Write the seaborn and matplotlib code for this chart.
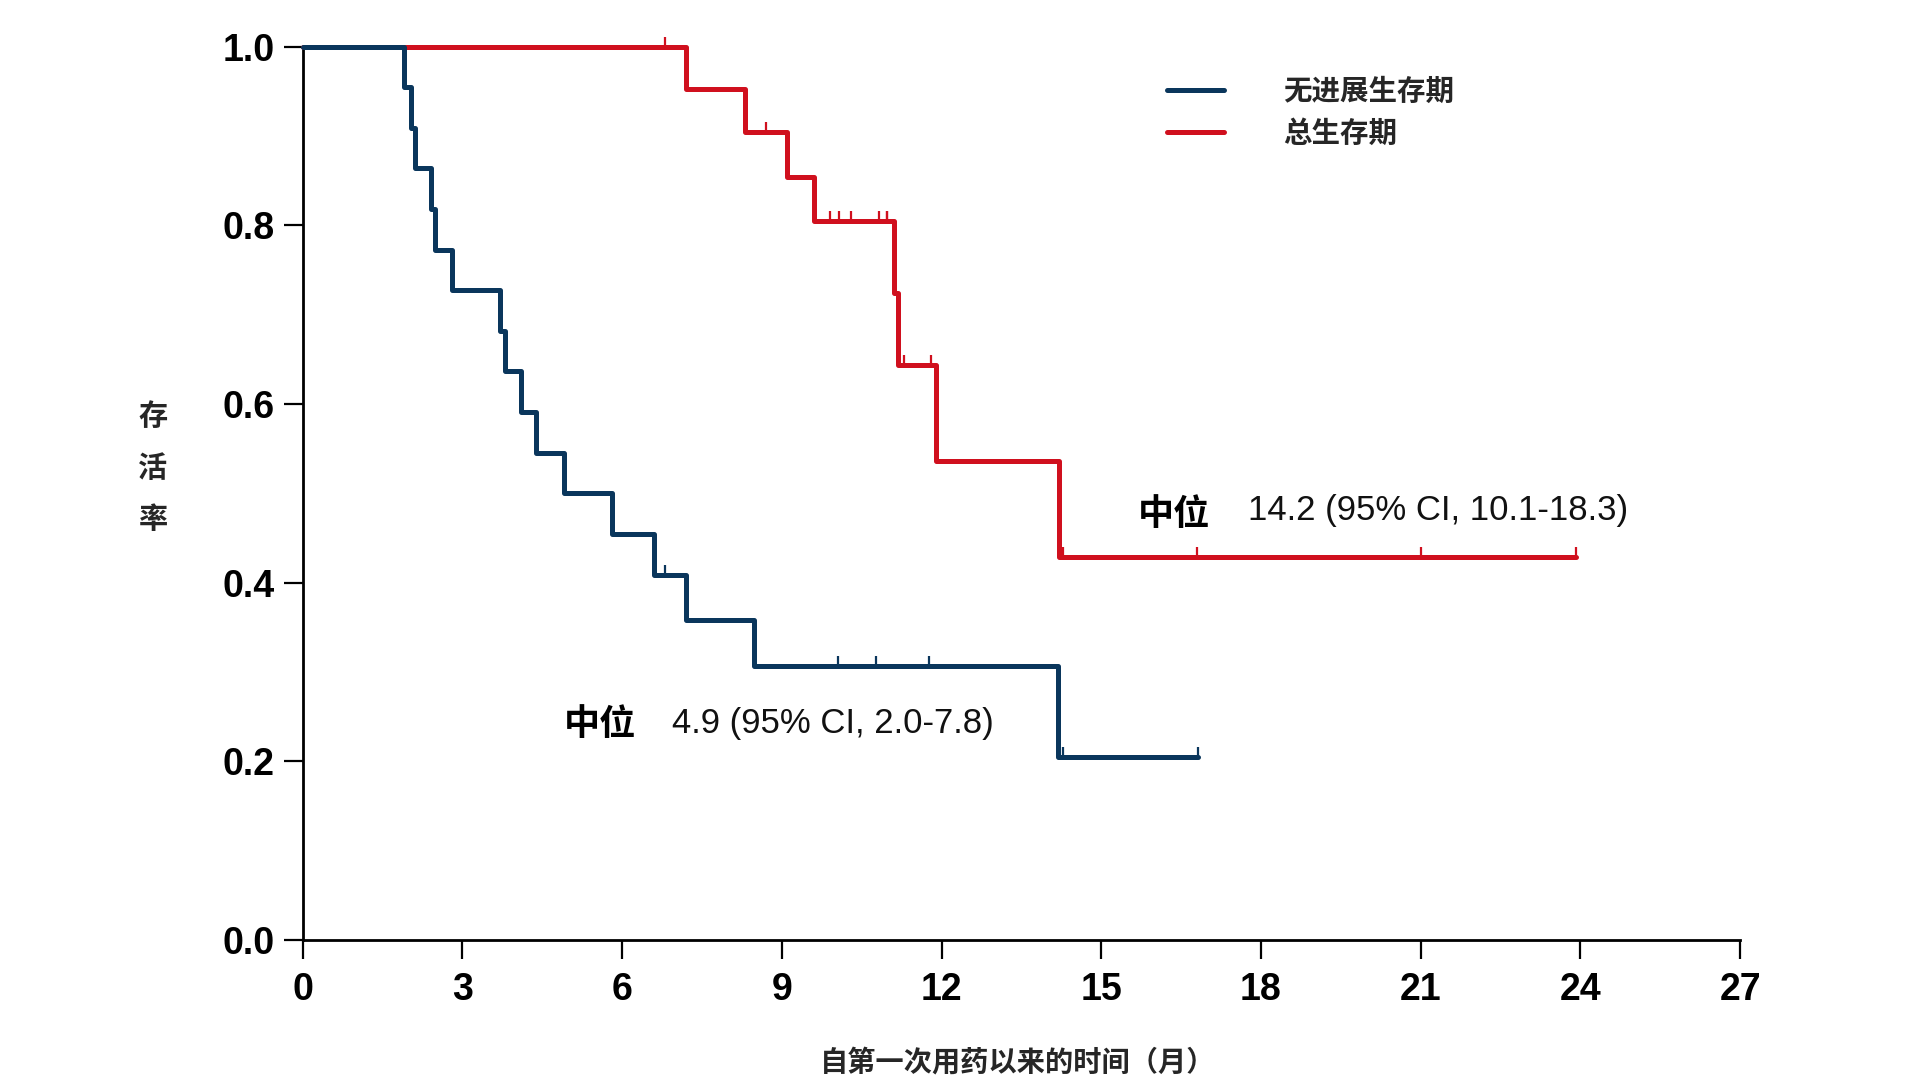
import numpy as np
import pandas as pd
import matplotlib
matplotlib.use("Agg")
import matplotlib.pyplot as plt
import seaborn as sns

# times in months (22 patients per curve)
pfs_events = [1.90, 2.03, 2.10, 2.40, 2.49, 2.81, 3.71, 3.80, 4.10, 4.39,
              4.91, 5.80, 6.60, 7.20, 8.48, 14.19]
pfs_censored = [6.81, 10.05, 10.76, 11.77, 14.28, 16.81]

os_events = [7.19, 8.30, 9.10, 9.60, 11.10, 11.19, 11.90, 14.20]
os_censored = [6.81, 8.71, 9.90, 10.08, 10.29, 10.82, 10.98, 10.98, 11.29,
               11.81, 14.28, 16.80, 21.00, 23.92]

series_names = ["无进展生存期", "总生存期"]
x_ticks = [0, 3, 6, 9, 12, 15, 18, 21, 24, 27]
y_ticks = [0.0, 0.2, 0.4, 0.6, 0.8, 1.0]
pfs_note = "4.9 (95% CI, 2.0-7.8)"
os_note = "14.2 (95% CI, 10.1-18.3)"

BLUE = "#0a365c"
RED = "#d0101e"


def km_steps(events, censored):
    """Kaplan-Meier estimate as step points plus the survival at each censor time."""
    ev = np.array(events)
    ce = np.array(censored)
    s = 1.0
    xs, ys = [0.0], [1.0]
    for t in np.unique(ev):
        at_risk = (ev >= t).sum() + (ce >= t).sum()
        d = (ev == t).sum()
        s *= 1 - d / at_risk
        xs.append(t)
        ys.append(s)
    end = max(ev.max(), ce.max())
    xs.append(end)
    ys.append(s)
    steps = pd.DataFrame({"time": xs, "surv": ys})
    cens_y = [steps.loc[steps["time"] <= c, "surv"].iloc[-1] for c in ce]
    return steps, pd.DataFrame({"time": ce, "surv": cens_y})


sns.set_theme(style="white")
plt.rcParams["font.family"] = ["Liberation Sans", "Noto Sans CJK SC", "DejaVu Sans"]
cjk = ["Noto Sans CJK SC", "DejaVu Sans"]

fig = plt.figure(figsize=(19.2, 10.8), dpi=100)
ax = fig.add_axes([0.1577, 0.1296, 0.7486, 0.8273])

os_steps, os_cens = km_steps(os_events, os_censored)
pfs_steps, pfs_cens = km_steps(pfs_events, pfs_censored)

for steps, cens, color, name, z in [(os_steps, os_cens, RED, series_names[1], 3),
                                    (pfs_steps, pfs_cens, BLUE, series_names[0], 4)]:
    sns.lineplot(data=steps, x="time", y="surv", ax=ax, color=color, lw=3.6,
                 drawstyle="steps-post", estimator=None, sort=False,
                 clip_on=False, zorder=z, label=name)
    ax.plot(cens["time"], cens["surv"], ls="none", marker=2, ms=7.5, mew=1.6,
            color=color, clip_on=False, zorder=z)

ax.set_xlim(0, 27)
ax.set_ylim(0, 1.0)
ax.set_xticks(x_ticks)
ax.set_yticks(y_ticks)
ax.set_yticklabels([f"{v:.1f}" for v in y_ticks])
ax.tick_params(axis="both", which="major", direction="out", length=14, width=1.6,
               color="black", labelsize=27, labelcolor="black",
               bottom=True, left=True)
ax.tick_params(axis="x", pad=9)
ax.tick_params(axis="y", pad=6.5)
for lab in ax.get_xticklabels() + ax.get_yticklabels():
    lab.set_fontweight("bold")
sns.despine(ax=ax)
for side in ["left", "bottom"]:
    ax.spines[side].set_color("black")
    ax.spines[side].set_linewidth(2.0)
ax.set_xlabel("")
ax.set_ylabel("")

# legend, progression-free survival listed first
handles, labels = ax.get_legend_handles_labels()
order = [labels.index(n) for n in series_names]
leg = ax.legend([handles[i] for i in order], [labels[i] for i in order],
                loc="upper left", bbox_to_anchor=(0.601, 0.965), frameon=False,
                borderpad=0, borderaxespad=0, handlelength=2.0, handletextpad=2.1,
                labelspacing=0.5, prop={"family": cjk, "weight": "bold", "size": 20.5})
for h in leg.get_lines():
    h.set_linewidth(3.6)
    h.set_solid_capstyle("round")

# median annotations
ax.text(4.90, 0.241, "中位", family=cjk, fontweight="bold", fontsize=26,
        va="center", ha="left", color="black")
ax.text(6.93, 0.242, pfs_note, fontsize=25, va="center", ha="left", color="#111111")
ax.text(15.68, 0.476, "中位", family=cjk, fontweight="bold", fontsize=26,
        va="center", ha="left", color="black")
ax.text(17.75, 0.481, os_note, fontsize=25, va="center", ha="left", color="#111111")

# axis titles
fig.text(0.0797, 0.567, "存\n活\n率", family=cjk, fontweight="bold", fontsize=21,
         ha="center", va="center", linespacing=1.9)
fig.text(0.530, 0.016, "自第一次用药以来的时间（月）", family=cjk, fontweight="bold",
         fontsize=20.3, ha="center", va="center")

fig.savefig("out.png", dpi=100, facecolor="white")
